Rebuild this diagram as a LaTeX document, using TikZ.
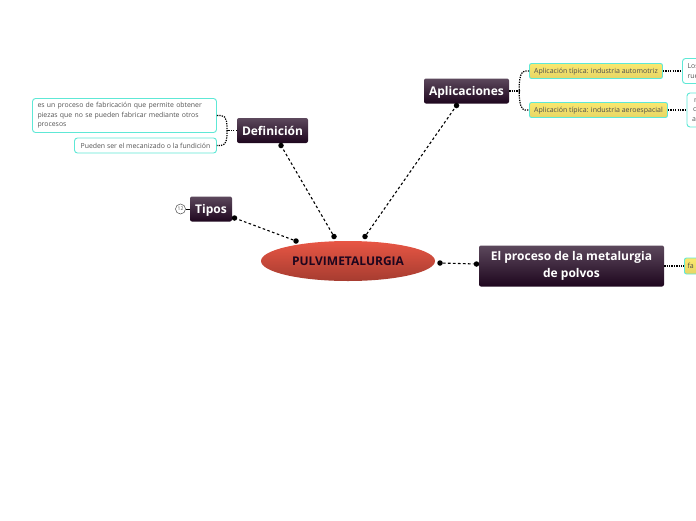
\documentclass[tikz,border=0pt]{standalone}
\usepackage{xcolor}
\usepackage{fontspec}
\setmainfont{Open Sans}
\usetikzlibrary{calc,arrows.meta,shapes.geometric}
\definecolor{plumTop}{RGB}{92,72,92}
\definecolor{plumBot}{RGB}{30,6,30}
\definecolor{noteTeal}{RGB}{94,232,214}
\definecolor{tagYellow}{RGB}{250,232,110}
\definecolor{rootRed}{RGB}{232,86,68}
\definecolor{rootDark}{RGB}{166,60,48}
\definecolor{inkGrey}{RGB}{85,85,85}
\tikzset{
  topicbox/.style={rounded corners=2pt,top color=plumTop,bottom color=plumBot,text=white,font=\bfseries\fontsize{12}{16.5}\selectfont,align=center,inner sep=0pt},
  notebox/.style={rounded corners=3pt,draw=noteTeal,fill=white,line width=0.9pt,text=inkGrey,font=\fontsize{6.9}{9.6}\selectfont,align=left,inner sep=0pt},
  tagbox/.style={rounded corners=2pt,draw=noteTeal,top color=tagYellow,bottom color=tagYellow!92!black,line width=0.9pt,text=black!70,font=\fontsize{7}{9}\selectfont,inner sep=0pt},
  linkdot/.style={circle,fill=black,inner sep=0pt,minimum size=5.5pt},
  mainlink/.style={dash pattern=on 2.6pt off 2.4pt,line width=1.1pt},
  sublink/.style={dash pattern=on 1.3pt off 1.1pt,line width=1.2pt}
}
\begin{document}
\begin{tikzpicture}[x=1pt,y=-1pt]
\useasboundingbox (0,0) rectangle (696,520);
% centre
\node[ellipse,top color=rootRed,bottom color=rootDark,minimum width=174pt,minimum height=40pt,inner sep=0pt,font=\bfseries\fontsize{12}{14}\selectfont,text=plumBot] (root) at (348,261) {PULVIMETALURGIA};
% branches
\node[topicbox,minimum width=85pt,minimum height=25pt,text depth=0pt] (aplic) at (466.5,91) {Aplicaciones};
\node[topicbox,minimum width=71pt,minimum height=25pt,text depth=0pt] (defin) at (272.5,130.5) {Definición};
\node[topicbox,minimum width=42pt,minimum height=25pt,text depth=0pt] (tipos) at (211,209) {Tipos};
\node[topicbox,minimum width=185pt,minimum height=41pt] (proceso) at (571.5,266) {\raisebox{-1pt}{El proceso de la metalurgia}\\\raisebox{-1pt}{de polvos}};
% notes on the left
\node[notebox,minimum width=184pt,minimum height=34pt,text width=174pt] (noteA) at (124.5,115.5) {\raisebox{-1pt}{es un proceso de fabricación que permite obtener}\\\raisebox{-1pt}{piezas que no se pueden fabricar mediante otros}\\\raisebox{-1pt}{procesos}};
\node[notebox,minimum width=142pt,minimum height=15pt,text depth=0pt] (noteB) at (145.5,145.5) {Pueden ser el mecanizado o la fundición};
\node[circle,draw=black!70,line width=0.5pt,inner sep=0pt,minimum size=10pt,font=\fontsize{5}{5}\selectfont,text=black!70] (count) at (180.5,209) {12};
% tags on the right
\node[tagbox,minimum width=133pt,minimum height=15pt,text depth=0pt] (tagAuto) at (596,71) {Aplicación típica: industria automotriz};
\node[tagbox,minimum width=138pt,minimum height=15pt,text depth=0pt] (tagAero) at (598.5,110) {Aplicación típica: industria aeroespacial};
\node[notebox,minimum width=40pt,minimum height=25pt,text width=30pt] (noteAuto) at (702.5,71) {Los\\rue};
\node[notebox,minimum width=40pt,minimum height=34pt,text width=30pt] (noteAero) at (707,110) {\hspace*{2pt}n\\\hspace*{1pt}c\\a};
\node[tagbox,minimum width=40pt,minimum height=16pt,text width=34pt,align=left,text depth=0pt] (tagProc) at (704.5,266) {fa};
% main links
\node[linkdot] (d1) at (296,241) {};
\node[linkdot] (d2) at (334,236.5) {};
\node[linkdot] (d3) at (365,236.5) {};
\node[linkdot] (d4) at (440,263) {};
\node[linkdot] (d5) at (476.5,264) {};
\node[linkdot] (d6) at (456.5,105.5) {};
\node[linkdot] (d7) at (281,145.5) {};
\node[linkdot] (d8) at (234.5,218) {};
\draw[mainlink] (d1) -- (d8);
\draw[mainlink] (d2) -- (d7);
\draw[mainlink] (d3) -- (d6);
\draw[mainlink] (d4) -- (d5);
% sub links
\coordinate (forkD) at (227,130.5);
\coordinate (forkA) at (519.5,91);
\draw[sublink] (defin.west) -- (forkD);
\draw[sublink] (noteA.east) -- ++(4,0) to[out=0,in=90] (forkD) to[out=-90,in=0] ($(noteB.east)+(4,0)$) -- (noteB.east);
\draw[sublink] (aplic.east) -- (forkA);
\draw[sublink] (tagAuto.west) -- ++(-4,0) to[out=180,in=-90] (forkA) to[out=90,in=180] ($(tagAero.west)+(-4,0)$) -- (tagAero.west);
\draw[sublink] (tagAuto.east) -- (noteAuto.west);
\draw[sublink] (tagAero.east) -- (noteAero.west);
\draw[sublink] (proceso.east) -- (tagProc.west);
\draw[line width=0.8pt] (count.east) -- (tipos.west);
\end{tikzpicture}
\end{document}
